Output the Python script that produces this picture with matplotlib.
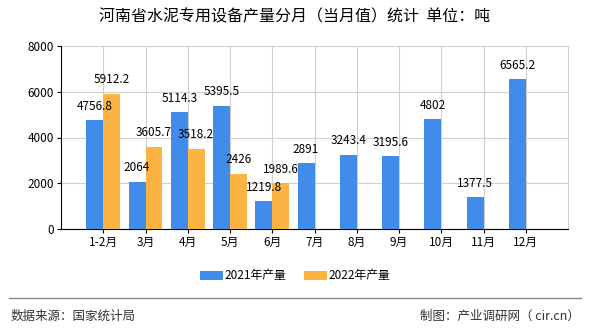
import matplotlib
matplotlib.use('Agg')
import matplotlib.pyplot as plt
import numpy as np

plt.rcParams['font.family'] = ['Noto Sans CJK SC', 'DejaVu Sans']

months = ['1-2月', '3月', '4月', '5月', '6月', '7月', '8月', '9月', '10月', '11月', '12月']
y2021 = [4756.8, 2064, 5114.3, 5395.5, 1219.8, 2891, 3243.4, 3195.6, 4802, 1377.5, 6565.2]
y2022 = [5912.2, 3605.7, 3518.2, 2426, 1989.6]
labels2021 = ['4756.8', '2064', '5114.3', '5395.5', '1219.8', '2891', '3243.4', '3195.6', '4802', '1377.5', '6565.2']
labels2022 = ['5912.2', '3605.7', '3518.2', '2426', '1989.6']

blue = '#418BEA'
orange = '#FBB441'

fig = plt.figure(figsize=(5.9, 3.3), dpi=100)
ax = fig.add_axes([61/590, 1 - 229/330, 507/590, 183/330])

x = np.arange(len(months))
w = 0.4
b1 = ax.bar(x - w/2, y2021, w, color=blue, label='2021年产量', zorder=3)
b2 = ax.bar(x[:len(y2022)] + w/2, y2022, w, color=orange, label='2022年产量', zorder=3)

for rect, t in zip(b1, labels2021):
    ax.text(rect.get_x() + rect.get_width()/2, rect.get_height() + 320, t,
            ha='center', va='bottom', fontsize=8.5, zorder=4)
for rect, t in zip(b2, labels2022):
    ax.text(rect.get_x() + rect.get_width()/2, rect.get_height() + 320, t,
            ha='center', va='bottom', fontsize=8.5, zorder=4)

ax.set_xlim(-1, len(months))
ax.set_ylim(0, 8000)
ax.set_xticks(x)
ax.set_xticklabels(months, fontsize=8.5)
ax.set_yticks(np.arange(0, 8001, 2000))
ax.tick_params(axis='y', labelsize=8.5, length=3, pad=2)
ax.tick_params(axis='x', length=3, pad=2)
ax.grid(True, color='#d0d0d0', linewidth=0.8, zorder=0)
ax.spines['top'].set_visible(False)
ax.spines['right'].set_color('#d0d0d0')
ax.spines['left'].set_color('black')
ax.spines['bottom'].set_color('black')

fig.text(0.5, 1 - 17/330, '河南省水泥专用设备产量分月（当月值）统计  单位：吨',
         ha='center', va='center', fontsize=11.5)

fig.legend(handles=[b1, b2], loc='center', bbox_to_anchor=(0.5, 1 - 276/330),
           ncol=2, frameon=False, fontsize=8.5, handlelength=2.0, handleheight=0.8,
           columnspacing=1.5, handletextpad=0.1)

fig.add_artist(plt.Line2D([9/590, 581/590], [1 - 298/330, 1 - 298/330],
                          color='#888888', linewidth=1))
fig.text(11/590, 1 - 316/330, '数据来源：国家统计局', ha='left', va='center',
         fontsize=9, color='#333333')
fig.text(580/590, 1 - 316/330, '制图：产业调研网（ cir.cn）', ha='right', va='center',
         fontsize=9, color='#333333')

fig.savefig('out.png', dpi=100)
